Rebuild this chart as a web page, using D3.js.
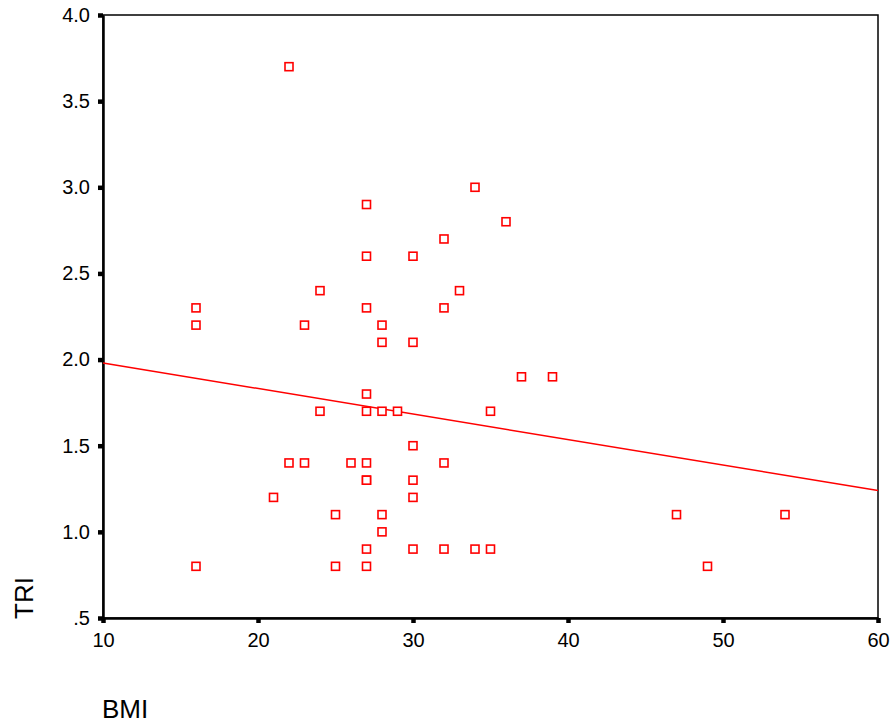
<!DOCTYPE html>
<html>
<head>
    <meta charset="utf-8" />
    <script src="https://d3js.org/d3.v7.min.js"></script>
    <style>
        body { margin: 0; background: #fff; }
        text { font-family: "Liberation Sans", Arial, sans-serif; fill: #000; }
    </style>
</head>
<body>
    <script>
        // BMI / TRI pairs
        var bmi = [16, 16, 16, 22, 27, 27, 30, 32, 34, 36, 24, 33, 23, 27, 28, 32, 28, 30,
                   37, 39, 27, 24, 27, 28, 29, 35, 30, 22, 23, 26, 27, 32, 27, 27, 30,
                   21, 30, 25, 28, 47, 54, 28, 27, 30, 32, 34, 35, 25, 27, 49];
        var tri = [2.3, 2.2, 0.8, 3.7, 2.9, 2.6, 2.6, 2.7, 3.0, 2.8, 2.4, 2.4, 2.2, 2.3, 2.2, 2.3, 2.1, 2.1,
                   1.9, 1.9, 1.8, 1.7, 1.7, 1.7, 1.7, 1.7, 1.5, 1.4, 1.4, 1.4, 1.4, 1.4, 1.3, 1.3, 1.3,
                   1.2, 1.2, 1.1, 1.1, 1.1, 1.1, 1.0, 0.9, 0.9, 0.9, 0.9, 0.9, 0.8, 0.8, 0.8];

        // fit line end points
        var fitX = [10, 60];
        var fitY = [1.98, 1.24];

        var xTicks = [10, 20, 30, 40, 50, 60];
        var yTicks = [0.5, 1.0, 1.5, 2.0, 2.5, 3.0, 3.5, 4.0];
        var yTickLabels = [".5", "1.0", "1.5", "2.0", "2.5", "3.0", "3.5", "4.0"];

        var width = 893,
            height = 726,
            plotLeft = 103,
            plotRight = 878,
            plotTop = 15,
            plotBottom = 618;

        var svg = d3.select("body")
            .append("svg")
            .attr("width", width)
            .attr("height", height);

        var x = d3.scaleLinear().domain([10, 60]).range([plotLeft, plotRight]);
        var y = d3.scaleLinear().domain([0.5, 4.0]).range([plotBottom, plotTop]);

        // frame
        svg.append("rect")
            .attr("x", plotLeft)
            .attr("y", plotTop)
            .attr("width", plotRight - plotLeft)
            .attr("height", plotBottom - plotTop)
            .attr("fill", "none")
            .attr("stroke", "#000")
            .attr("stroke-width", 1.5);

        var yAxis = svg.append("g")
            .attr("transform", "translate(" + plotLeft + ",0)")
            .call(d3.axisLeft(y)
                .tickValues(yTicks)
                .tickSizeInner(5)
                .tickSizeOuter(0)
                .tickPadding(8)
                .tickFormat(function (d, i) { return yTickLabels[i]; }));

        var xAxis = svg.append("g")
            .attr("transform", "translate(0," + plotBottom + ")")
            .call(d3.axisBottom(x)
                .tickValues(xTicks)
                .tickSizeInner(5)
                .tickSizeOuter(0)
                .tickPadding(10)
                .tickFormat(d3.format("d")));

        [yAxis, xAxis].forEach(function (g) {
            g.select(".domain").attr("stroke-width", 2.5);
            g.selectAll(".tick line").attr("stroke-width", 4.5);
            g.selectAll(".tick text")
                .style("font-family", "'Liberation Sans', Arial, sans-serif")
                .style("font-size", "20px");
        });

        // fit line
        svg.append("line")
            .attr("x1", x(fitX[0]))
            .attr("y1", y(fitY[0]))
            .attr("x2", x(fitX[1]))
            .attr("y2", y(fitY[1]))
            .attr("stroke", "#ff0000")
            .attr("stroke-width", 1.5);

        // markers
        var s = 8;
        svg.append("g")
            .selectAll("rect")
            .data(bmi)
            .enter()
            .append("rect")
            .attr("x", function (d) { return x(d) - s / 2; })
            .attr("y", function (d, i) { return y(tri[i]) - s / 2; })
            .attr("width", s)
            .attr("height", s)
            .attr("fill", "#fff")
            .attr("stroke", "#ff0000")
            .attr("stroke-width", 1.6);

        // axis titles
        svg.append("text")
            .attr("transform", "translate(33,598) rotate(-90)")
            .attr("text-anchor", "middle")
            .style("font-size", "26px")
            .text("TRI");

        svg.append("text")
            .attr("x", 102)
            .attr("y", 718)
            .style("font-size", "26px")
            .text("BMI");
    </script>
</body>
</html>
